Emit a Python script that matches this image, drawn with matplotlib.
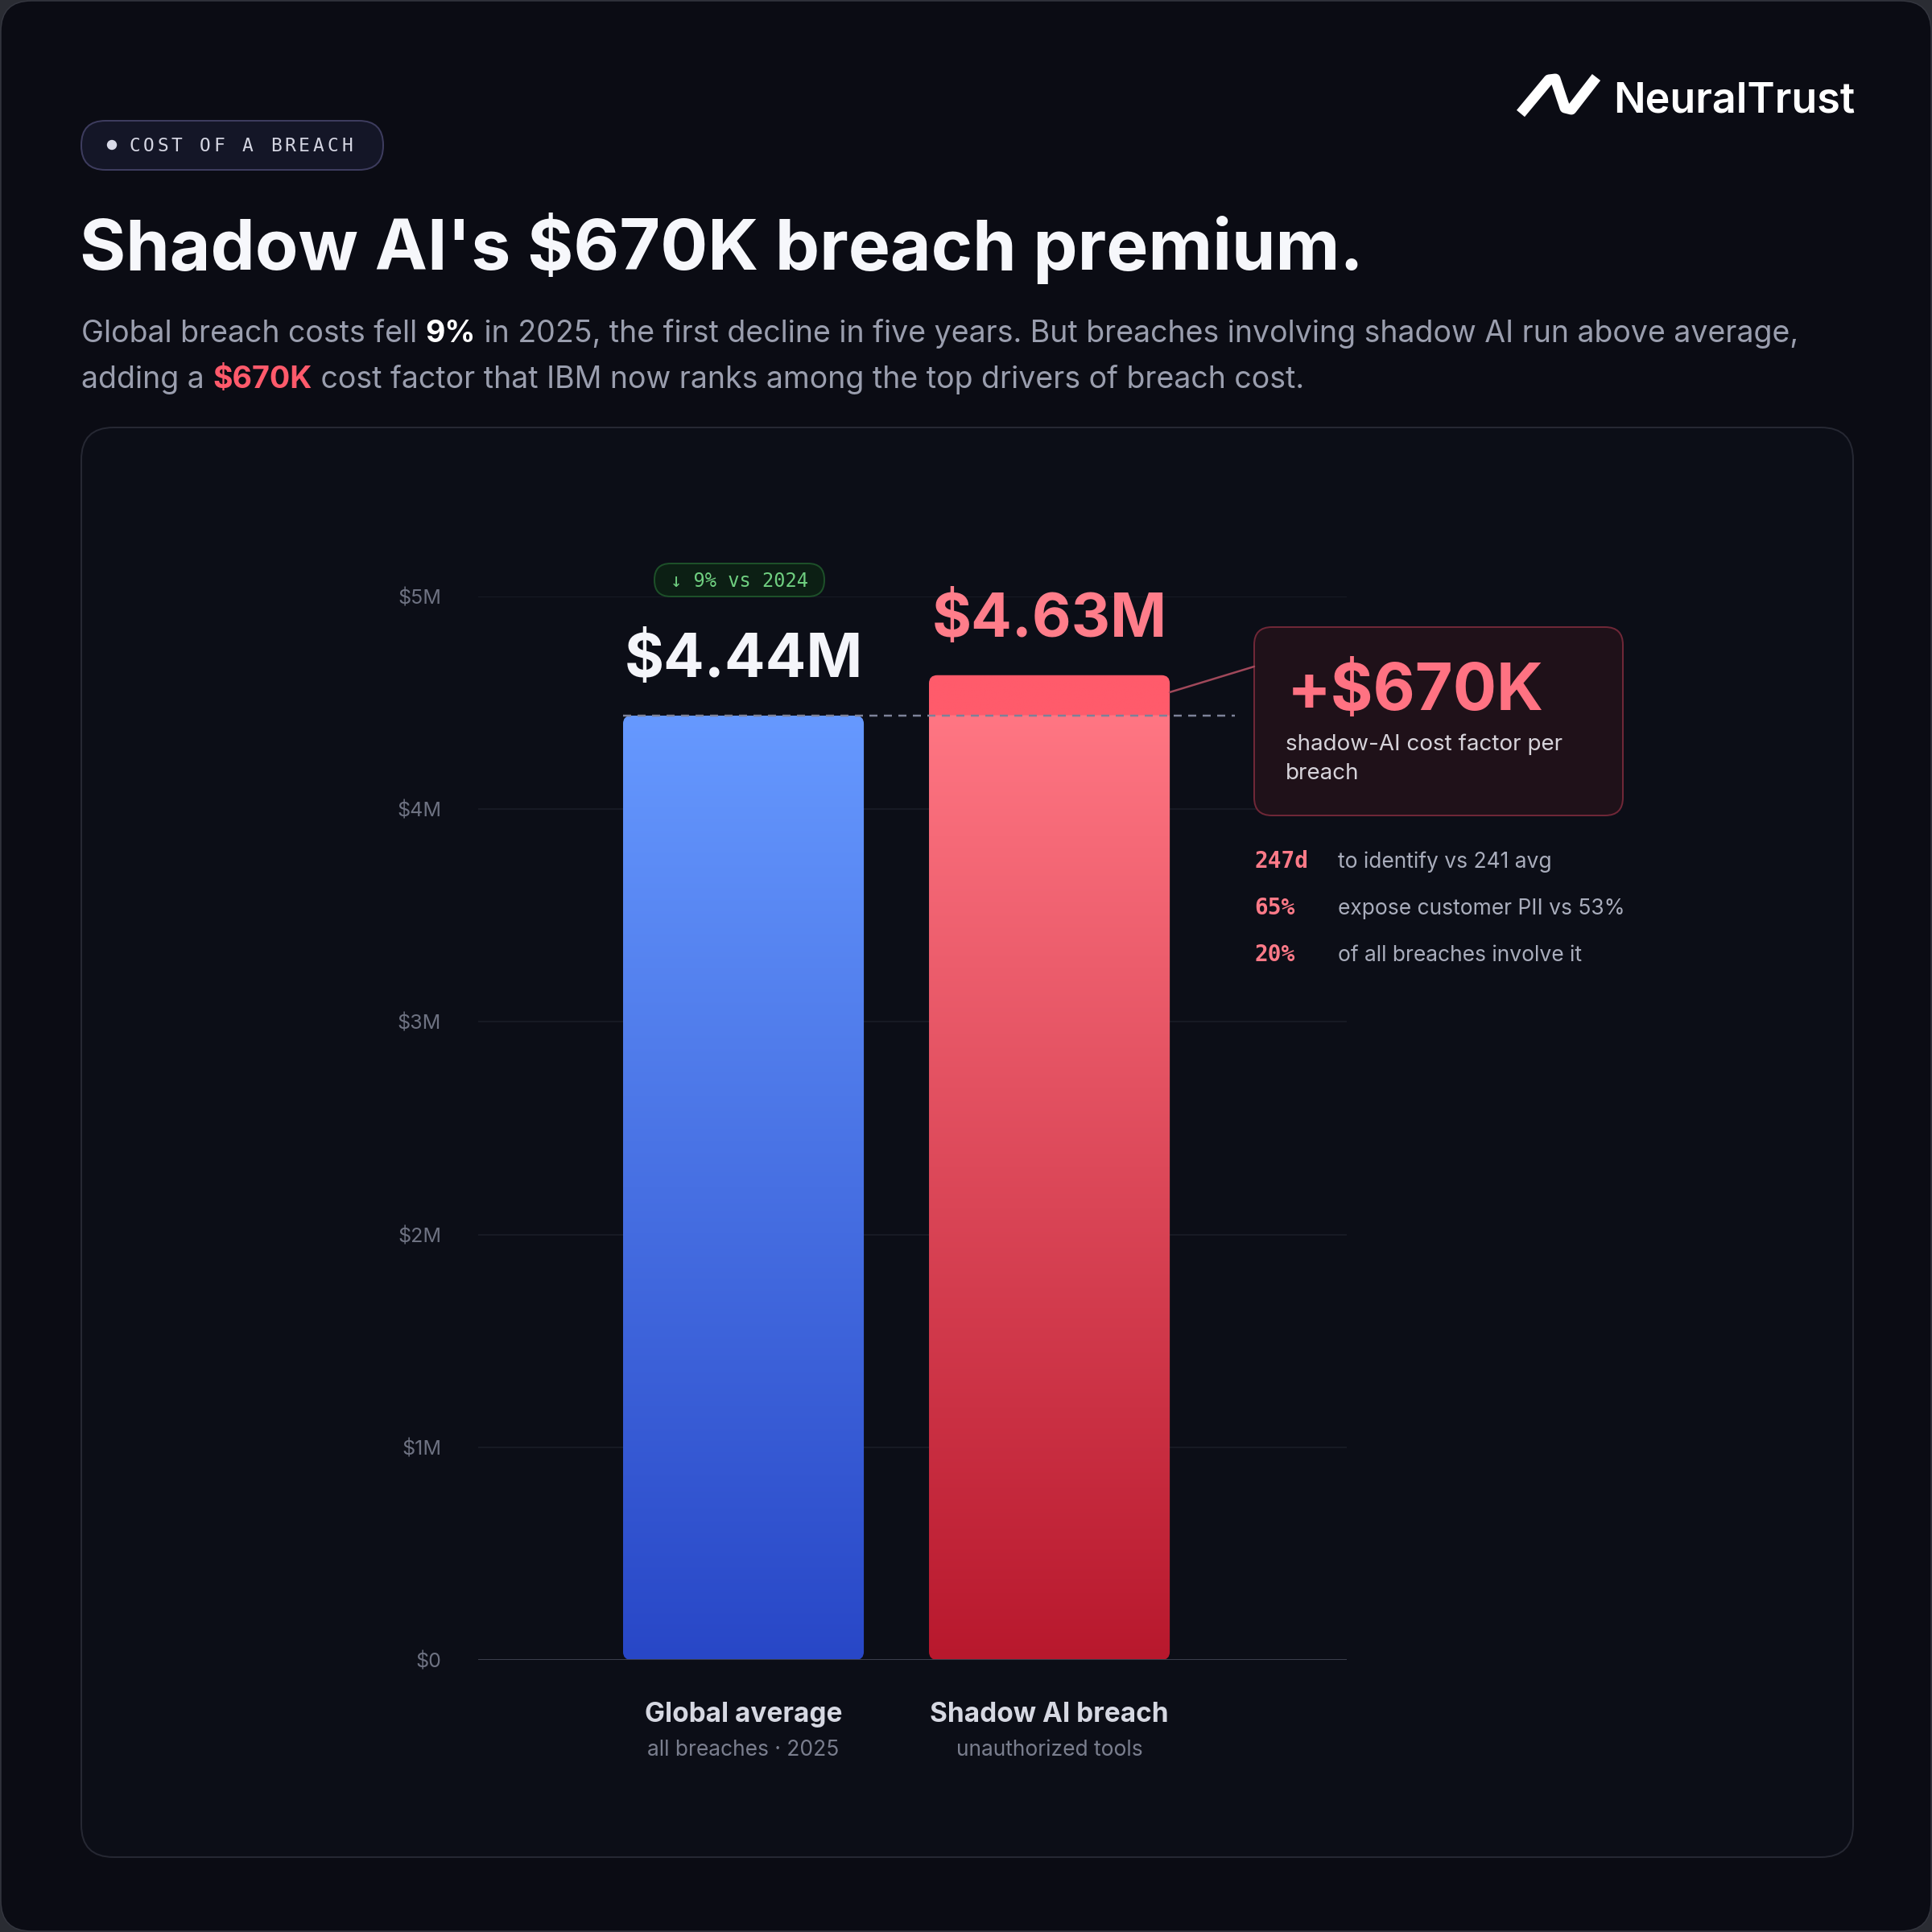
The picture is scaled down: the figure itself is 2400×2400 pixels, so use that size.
import numpy as np
import matplotlib
matplotlib.use("Agg")
import matplotlib.pyplot as plt
import matplotlib.colors as mcolors
from matplotlib.patches import FancyBboxPatch, Circle, ConnectionPatch
from matplotlib.lines import Line2D

# ---- datos ----
categorias = ["Global average", "Shadow AI breach"]
subcategorias = ["all breaches · 2025", "unauthorized tools"]
valores = [4.44, 4.63]          # millones de USD
etiquetas_valor = ["$4.44M", "$4.63M"]
ticks_y = [0, 1, 2, 3, 4, 5]
ticks_y_lbl = ["$0", "$1M", "$2M", "$3M", "$4M", "$5M"]
premium = "+$670K"
premium_txt = "shadow-AI cost factor per\nbreach"
stats_num = ["247d", "65%", "20%"]
stats_txt = ["to identify vs 241 avg", "expose customer PII vs 53%", "of all breaches involve it"]
badge = "↓ 9% vs 2024"

BG = "#0b0c14"
SANS = ["Inter", "DejaVu Sans"]
MONO = ["DejaVu Sans Mono"]
W = H = 2400


def fx(x):
    return x / W


def fy(y):
    return 1 - y / H


def pt(px):
    return px * 0.72


def caja(x0, y0, x1, y1, r, fc, ec, lw=2, z=-5):
    p = FancyBboxPatch((fx(x0), fy(y1)), (x1 - x0) / W, (y1 - y0) / H,
                       boxstyle=f"round,pad=0,rounding_size={r / W}",
                       transform=fig.transFigure, fc=fc, ec=ec, lw=pt(lw), zorder=z)
    fig.add_artist(p)
    return p


fig = plt.figure(figsize=(24, 24), dpi=100, facecolor="#2a2c33")
renderer = fig.canvas.get_renderer()

# fondo y tarjeta
caja(1, 1, 2399, 2399, 38, BG, "#34363f", lw=1.5, z=-10)
caja(101, 531, 2302, 2307, 40, "#0c0e17", "#262833", lw=2)

# pastilla superior
caja(101, 150, 476, 211, 30, "#141627", "#3d3c5e", lw=2)
fig.add_artist(Circle((fx(139), fy(180)), 5.5 / W, transform=fig.transFigure,
                      color="#d9dae8", zorder=2))
for i, ch in enumerate("COST OF A BREACH"):
    fig.text(fx(160 + i * 17.6), fy(188), ch, family=MONO, fontsize=16.5,
             color="#d4d5e2", va="baseline", ha="left")

# logo
fig.add_artist(Line2D([fx(1889), fx(1924), fx(1932), fx(1944), fx(1952), fx(1983)],
                      [fy(141), fy(99), fy(98), fy(134), fy(136), fy(96)],
                      transform=fig.transFigure, color="white", lw=pt(13),
                      solid_joinstyle="round", solid_capstyle="butt"))
fig.text(fx(2004), fy(140), "NeuralTrust", family=SANS, weight="semibold",
         fontsize=37.5, color="white", va="baseline", ha="left")

# titulo
fig.text(fx(99), fy(335), "Shadow AI's $670K breach premium.", family=SANS,
         weight="bold", fontsize=63, color="#f6f7fb", va="baseline", ha="left")


def linea(x, y, partes, size):
    for txt, col, peso in partes:
        t = fig.text(fx(x), fy(y), txt, family=SANS, weight=peso, fontsize=size,
                     color=col, va="baseline", ha="left")
        x += t.get_window_extent(renderer).width


GRIS = "#9a9eae"
linea(101, 425, [("Global breach costs fell ", GRIS, "normal"),
                 ("9%", "#ffffff", "bold"),
                 (" in 2025, the first decline in five years. But breaches involving shadow AI run above average,", GRIS, "normal")], 27)
linea(101, 482, [("adding a ", GRIS, "normal"),
                 ("$670K", "#ff5a6b", "bold"),
                 (" cost factor that IBM now ranks among the top drivers of breach cost.", GRIS, "normal")], 27)

# ---- grafico ----
ax = fig.add_axes([fx(594), fy(2062), (1673 - 594) / W, (2062 - 741) / H])
ax.set_facecolor("none")
for s in ax.spines.values():
    s.set_visible(False)

ancho_barra = 0.787
barras = ax.bar(range(len(valores)), valores, width=ancho_barra, color="none", edgecolor="none")


def degradado(c_arriba, c_abajo, n):
    a = np.array(mcolors.to_rgb(c_arriba))
    b = np.array(mcolors.to_rgb(c_abajo))
    f = np.linspace(0, 1, n)[:, None]
    return a * (1 - f) + b * f


n = 800
aspecto = (5 / 1321) / (1 / 380)
for i, b in enumerate(barras):
    x0, w, h = b.get_x(), b.get_width(), b.get_height()
    if i == 0:
        img = degradado("#6699ff", "#2847c7", n)
    else:
        yy = np.linspace(h, 0, n)
        # degradado hasta la media global, tramo de la prima en color plano
        base = (yy / valores[0])[:, None]
        a = np.array(mcolors.to_rgb("#ff7683"))
        c = np.array(mcolors.to_rgb("#b8182d"))
        img = c * (1 - base) + a * base
        img[yy > valores[0]] = mcolors.to_rgb("#ff5b6b")
        img = np.clip(img, 0, 1)
    img = np.repeat(img[:, None, :], 2, axis=1)
    forma = FancyBboxPatch((x0, 0), w, h, boxstyle="round,pad=0,rounding_size=0.027",
                           mutation_aspect=aspecto, fc="none", ec="none", transform=ax.transData)
    ax.add_patch(forma)
    im = ax.imshow(img, extent=(x0, x0 + w, 0, h), aspect="auto",
                   interpolation="bilinear", zorder=3)
    im.set_clip_path(forma)

ax.set_xlim(-0.867, 1.972)
ax.set_ylim(0, 5)
ax.set_yticks(ticks_y, ticks_y_lbl)
ax.set_xticks([])
ax.tick_params(axis="y", length=0, pad=pt(46), labelsize=pt(25), labelcolor="#6e7282")
for lb in ax.get_yticklabels():
    lb.set_family(SANS)
ax.yaxis.grid(True, color="#1b1e29", lw=pt(1.5))
ax.set_axisbelow(True)
ax.axhline(0, color="#3b3e4c", lw=pt(3), zorder=6)

# linea de referencia en la media global
ax.plot([barras[0].get_x(), 1.607], [valores[0], valores[0]], color="#7d8299",
        lw=pt(2.5), ls=(0, (4, 3.2)), zorder=7, solid_capstyle="butt")

# etiquetas de valor
colores_valor = ["#f4f5fa", "#ff7d8a"]
for i, v in enumerate(valores):
    ax.text(i, v + 0.18, etiquetas_valor[i], ha="center", va="baseline",
            family=SANS, weight="bold", fontsize=54, color=colores_valor[i], clip_on=False)

# etiquetas de categoria
tr = ax.get_xaxis_transform()
for i, (c, s) in enumerate(zip(categorias, subcategorias)):
    ax.text(i, -68 / 1321, c, transform=tr, ha="center", va="center", family=SANS,
            weight="bold", fontsize=24, color="#d6d8e2", clip_on=False)
    ax.text(i, -112 / 1321, s, transform=tr, ha="center", va="center", family=SANS,
            fontsize=19, color="#7a7e8e", clip_on=False)

# insignia verde
caja(813, 700, 1024, 741, 20, "#0c1f14", "#1d5029", lw=2, z=2)
fig.text(fx(918.5), fy(729), badge, family=MONO, fontsize=17, color="#6fcf80",
         ha="center", va="baseline")

# caja de la prima
caja(1558, 779, 2016, 1013, 22, "#1f1119", "#6f2737", lw=2, z=2)
fig.text(fx(1599), fy(882), premium, family=SANS, weight="bold", fontsize=58,
         color="#ff7282", ha="left", va="baseline", zorder=3)
fig.text(fx(1597), fy(912), premium_txt, family=SANS, fontsize=20, color="#d6d3da",
         ha="left", va="top", linespacing=1.5, zorder=3)

# conector barra -> caja
con = ConnectionPatch(xyA=(barras[1].get_x() + barras[1].get_width(), valores[1] - 0.08),
                      coordsA=ax.transData, xyB=(fx(1558), fy(828)), coordsB=fig.transFigure,
                      color="#a0485a", lw=pt(2.5), zorder=4)
fig.add_artist(con)

# estadisticas
for i, (num, txt) in enumerate(zip(stats_num, stats_txt)):
    y = 1078 + i * 58
    fig.text(fx(1558), fy(y), num, family=MONO, weight="bold", fontsize=20,
             color="#ff7a88", ha="left", va="baseline")
    fig.text(fx(1662), fy(y), txt, family=SANS, fontsize=19, color="#a9adbc",
             ha="left", va="baseline")

fig.savefig("out.png", dpi=100, facecolor=fig.get_facecolor())
